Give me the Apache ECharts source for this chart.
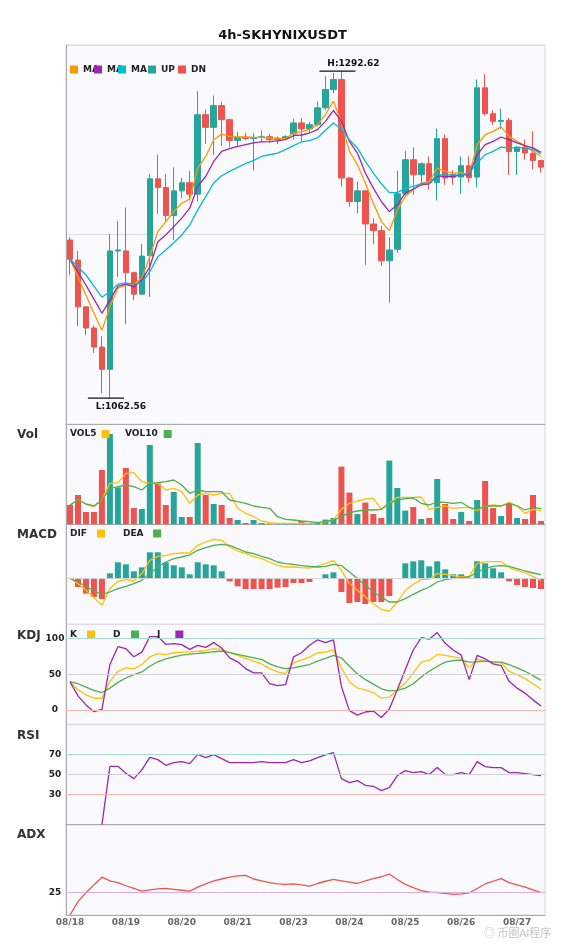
<!DOCTYPE html>
<html>
<head>
<meta charset="utf-8">
<script src="https://cdn.jsdelivr.net/npm/echarts@6/dist/echarts.min.js"></script>
<style>html,body{margin:0;padding:0;background:#fff}#c{width:565px;height:950px}</style>
</head>
<body>
<div id="c"></div>
<script>
const categories = [
'08/18 00:00','08/18 04:00','08/18 08:00','08/18 12:00','08/18 16:00','08/18 20:00',
'08/19 00:00','08/19 04:00','08/19 08:00','08/19 12:00','08/19 16:00','08/19 20:00',
'08/20 00:00','08/20 04:00','08/20 08:00','08/20 12:00','08/20 16:00','08/20 20:00',
'08/21 00:00','08/21 04:00','08/21 08:00','08/21 12:00','08/21 16:00','08/21 20:00',
'08/22 00:00','08/22 04:00','08/22 08:00','08/22 12:00',
'08/23 00:00','08/23 04:00','08/23 08:00','08/23 12:00','08/23 16:00','08/23 20:00',
'08/24 00:00','08/24 04:00','08/24 08:00','08/24 12:00','08/24 16:00','08/24 20:00',
'08/25 00:00','08/25 04:00','08/25 08:00','08/25 12:00','08/25 16:00','08/25 20:00',
'08/26 00:00','08/26 04:00','08/26 08:00','08/26 12:00','08/26 16:00','08/26 20:00',
'08/27 00:00','08/27 04:00','08/27 08:00','08/27 12:00','08/27 16:00','08/27 20:00',
'08/28 00:00','08/28 04:00'];

const opens = [1173.8,1159.7,1126.8,1111.9,1098.5,1082.8,1166.1,1166.1,1150.8,1135.7,
1162.8,1216.9,1210.7,1191.0,1208.4,1214.1,1206.1,1262.0,1253.1,1268.4,
1258.5,1243.9,1246.3,1245.2,1246.0,1246.5,1244.5,1245.5,1248.4,1256.2,
1252.0,1255.0,1266.8,1279.7,1286.7,1217.4,1200.9,1208.4,1185.1,1180.4,
1159.2,1167.3,1206.3,1230.3,1219.7,1227.5,1214.3,1245.1,1220.0,1218.1,
1226.1,1218.1,1280.9,1262.7,1257.3,1258.0,1236.1,1239.2,1234.6,1229.8];
const closes = [1160.2,1126.8,1111.9,1098.5,1082.8,1166.1,1166.8,1150.8,1135.7,1162.5,
1216.9,1210.7,1191.0,1208.4,1214.1,1206.1,1262.0,1253.1,1268.4,1258.5,
1243.9,1246.3,1245.2,1246.0,1246.5,1244.5,1245.5,1246.5,1256.2,1252.0,
1255.0,1266.8,1279.7,1286.7,1217.4,1200.9,1208.4,1185.1,1180.4,1159.2,
1166.8,1206.3,1230.3,1219.7,1227.5,1214.3,1245.1,1217.4,1218.0,1226.1,
1217.7,1280.9,1262.7,1257.3,1258.0,1236.1,1239.2,1235.0,1229.8,1225.1];
const lows = [1149.2,1113.1,1106.8,1094.3,1066.1,1062.56,1147.9,1114.6,1131.5,1135.0,
1133.8,1192.2,1186.7,1173.8,1203.3,1201.6,1200.9,1241.4,1233.8,1240.2,
1239.0,1240.2,1244.0,1222.7,1242.8,1242.0,1241.4,1244.5,1244.4,1242.8,
1249.0,1253.8,1265.0,1277.0,1211.4,1197.3,1192.7,1156.2,1171.0,1155.5,
1129.6,1164.9,1205.0,1205.6,1211.9,1209.6,1201.6,1212.6,1212.6,1206.3,
1214.3,1211.0,1261.4,1255.0,1252.0,1219.7,1219.7,1230.3,1223.7,1221.3];
const highs = [1175.8,1166.1,1127.3,1113.8,1106.1,1178.1,1187.2,1196.6,1151.5,1171.0,
1220.4,1233.8,1220.4,1224.9,1217.4,1222.5,1278.5,1265.6,1275.5,1271.2,
1259.2,1250.0,1249.1,1249.0,1251.0,1248.7,1246.7,1247.5,1259.2,1259.7,
1257.0,1271.4,1289.1,1291.5,1292.62,1218.2,1215.0,1209.0,1189.1,1183.7,
1175.8,1222.5,1236.6,1239.0,1228.4,1232.6,1252.2,1247.9,1223.0,1232.6,
1232.6,1286.8,1290.5,1265.1,1266.1,1259.7,1239.8,1244.4,1250.3,1229.8];

const ma5 = [1160.4,1147.7,1135.0,1122.3,1110.3,1126.8,1140.0,1142.1,1142.8,1147.0,
1162.1,1179.7,1186.8,1193.8,1199.7,1202.6,1224.4,1232.6,1244.4,1248.4,
1246.7,1246.3,1246.3,1246.0,1246.0,1245.6,1245.1,1245.1,1249.1,1250.1,
1251.5,1255.0,1262.1,1271.5,1256.2,1236.2,1226.8,1213.9,1199.7,1186.8,
1180.4,1195.0,1204.4,1209.1,1213.9,1215.0,1224.4,1222.0,1220.9,1221.3,
1219.7,1240.9,1247.9,1250.3,1253.4,1246.7,1243.2,1240.2,1236.2,1232.6];
const ma10 = [1160.4,1151.3,1142.1,1132.2,1122.3,1131.5,1141.4,1142.8,1140.9,1145.6,
1155.0,1172.6,1177.4,1183.2,1189.2,1196.2,1211.5,1218.5,1229.1,1236.2,
1238.1,1239.7,1240.9,1242.1,1242.8,1243.0,1243.5,1244.4,1247.2,1247.7,
1249.1,1251.5,1257.3,1265.1,1257.3,1243.2,1235.0,1220.9,1210.3,1200.9,
1193.8,1198.6,1206.8,1209.6,1212.7,1213.4,1219.0,1218.5,1218.5,1219.7,
1219.7,1233.8,1240.9,1243.2,1246.3,1244.4,1242.1,1240.2,1238.6,1235.5];
const ma20 = [1160.4,1154.8,1149.2,1141.4,1133.6,1137.4,1142.8,1143.7,1142.8,1143.7,
1151.5,1162.1,1166.8,1171.9,1177.4,1184.4,1195.0,1204.4,1213.9,1219.0,
1222.1,1224.9,1227.5,1229.8,1232.6,1233.8,1235.0,1237.4,1240.2,1242.8,
1243.7,1245.6,1251.0,1256.2,1252.0,1244.4,1238.6,1229.1,1220.9,1213.4,
1207.2,1207.2,1210.3,1211.5,1213.4,1213.9,1219.7,1219.7,1219.7,1219.7,
1220.9,1228.0,1233.8,1236.2,1239.2,1238.6,1238.6,1238.6,1237.4,1234.6];

const volumes = [19.3,29.3,12.3,12.3,54.3,90.3,37,56.3,16.3,15.3,
79.3,41,19.3,32.3,7.3,7.3,81.3,29.3,20.3,19.3,
6.3,4.3,1.3,4.3,1.3,0.7,0.7,0.7,1,3.3,
1,2.3,4.7,6.3,57.7,31.7,10.3,21.7,10.3,6.3,
63.7,36.3,13.7,17.3,5.3,6.3,45.3,20.3,5.3,12.3,
3.3,24.3,43.3,16.3,8.3,21,6.3,5.3,29.3,3.3];
const vol5 = [19.3,24.3,20.3,17.6,24.3,41,41.6,51,51.6,42.6,
41,41,34.3,36,32.6,21,29.3,31,29.3,31,
31,16,11,7.6,3.3,1.6,1,1,1,1,
1,1.6,2.3,4.3,15,21,23.3,25.3,26,15,
21,27,27,27,27.3,15,17,18.3,16,16.6,
17,13.6,18.3,19.3,18.3,22.3,18.3,11,15,13.6];
const vol10 = [19.3,24.3,20.3,18.3,24.3,36,37.6,39.3,37.6,34.3,
41,41.6,42.6,44.3,39.3,31,34.3,32.6,32.6,32.6,
24.3,22.6,21,18.3,17,16,7.6,5,4.3,3.3,
2.6,1.6,2.6,4.3,7.6,11.6,13.3,14.3,14.3,15,
21,24.3,25.6,26.3,21,19.3,22.3,22,21,22,
17,15,18.3,18.3,18.3,21,18.3,14.3,17,15.6];

const dif = [0,-5.3,-12,-19.3,-27,-10.3,-3,-1.3,-2.7,4.7,
18,22,23,24.7,25.3,25.5,33,36.3,39,38,
31.3,27.3,24.7,22,19.7,16.3,13,11.3,11.3,10.7,
10.3,12.3,14.7,18,8,-5.3,-12,-18.7,-25.3,-31.3,
-32.7,-23.7,-12,-6,-1.3,-0.7,4.7,4,2.7,1.3,
2,14.7,16.7,16.7,16.7,10.7,8,5.3,2,-2];
const dea = [0,-3.7,-8,-12.7,-16,-13.7,-10.3,-8,-5.3,-2,
4.7,11.3,16.3,19.7,21.3,23.5,28,30.7,33,34,
33,29.7,26.3,24.7,22,19.7,16.3,14.7,14,12.7,
12,11.3,12,14,12.7,6.3,-0.3,-7,-13.7,-18.7,
-23.7,-23.7,-20.3,-16,-12,-8.7,-3.7,-1.3,0,0.7,
1.3,6.3,9.7,12,12.7,12,9.7,7.3,5.3,3.7];
const macdHist = [0,-8.7,-15.3,-18.7,-20.7,5,16,14,7,11,
26,26,16,13,11,4,16,14,13,7,
-3,-8,-10.7,-10.7,-10.7,-10.7,-9.3,-8.7,-4.7,-4.7,
-3.7,-0.7,4,6,-13.7,-24.7,-23.7,-25.7,-23.7,-23.7,
-17.7,-0.5,15,17,18,12,17,9,4,4,
0.5,17,15,10,6,-3,-6.7,-8.7,-9.7,-10.7];

const kLine = [39.6,28.3,21.2,16.5,16.5,40.1,54.2,59.0,57.5,63.7,
74.5,78.8,77.4,80.2,81.1,81.1,82.5,83.0,85.8,84.9,
80.2,76.4,72.2,68.4,64.6,58.0,53.3,50.9,66.0,69.8,
74.1,80.2,81.1,84.0,59.0,39.2,30.7,28.3,24.5,16.5,
17.9,28.3,37.7,51.9,67.0,69.8,77.8,76.4,74.5,72.6,
59.0,70.8,68.4,67.0,66.0,54.2,49.5,43.9,36.8,29.2];
const dLine = [39.6,36.8,32.1,27.4,24.5,30.7,38.7,44.8,49.5,53.3,
61.3,67.5,71.7,74.5,76.9,78.3,79.2,80.2,81.6,82.5,
80.2,77.8,75.5,73.1,70.8,64.6,60.4,58.0,59.0,61.3,
63.7,68.4,72.2,76.4,73.1,61.3,50.9,42.5,36.3,29.7,
26.9,27.4,30.7,36.8,46.2,54.2,61.3,67.0,69.3,69.8,
67.0,67.5,68.4,67.5,67.0,63.7,59.0,54.2,48.1,41.5];
const jLine = [39.6,19.8,7.1,-2.4,0.9,63.7,88.7,85.8,74.5,81.1,
102.8,102.8,92.0,92.9,91.5,84.9,90.6,87.7,94.3,86.8,
73.1,67.5,58.0,51.9,51.9,36.8,34.0,35.4,74.5,80.2,
90.6,98.1,94.3,98.1,33.0,-0.9,-7.1,-2.8,-1.4,-10.4,
1.4,28.3,56.6,84.0,101.4,99.1,108.5,93.4,84.0,76.9,
42.5,76.4,71.7,64.6,62.3,40.1,30.7,23.6,14.2,5.7];

const rsi = [null,null,null,null,0,58.3,58.3,51.3,46,54.7,
67.3,65,59.3,62,63,61,70.3,67,70,66,
62,62,62,62,63,62,62,62,65,62,
63.7,67,69.7,72,46,42,44,39.3,38.3,34,
37,49,54,52,53,50,57,50,50,52,
50,63,58,57,57,52,52,51,50,49];
const adx = [20,22.96,24.96,26.7,28.4,27.6,27.2,26.5,25.9,25.3,
25.6,25.8,25.9,25.7,25.5,25.3,26.2,26.9,27.6,28.0,
28.4,28.7,28.8,28.0,27.6,27.2,26.9,26.8,26.9,26.7,
26.4,27.0,27.5,27.9,27.6,27.3,27.0,27.6,28.1,28.5,
29.1,27.9,26.8,26.1,25.4,25.1,25.0,24.8,24.6,24.7,
24.9,25.9,26.9,27.5,28.1,27.2,26.7,26.2,25.6,25.0];

const kdjTicks = [0, 50, 100];
const rsiTicks = [30, 50, 70];
const adxTicks = [25];

/* ---------- build ---------- */
const FONT = 'DejaVu Sans';
const UP = '#26A69A', DN = '#EF5350';
const isUp = i => closes[i] >= opens[i];
const ohlc = categories.map((c, i) => [opens[i], closes[i], lows[i], highs[i]]);
const hiVal = Math.max(...highs), loVal = Math.min(...lows);
const hiIdx = highs.indexOf(hiVal), loIdx = lows.indexOf(loVal);
const pad = (hiVal - loVal) * 0.08;
const pMin = loVal - pad, pMax = hiVal + pad;

const grids = [[45, 379.3], [424.3, 100], [524.3, 100], [624.3, 100], [724.6, 100], [825, 90]];

const lbl = keep => ({
  show: true, color: '#222', fontSize: 9, fontWeight: 'bold', fontFamily: FONT,
  align: 'center', margin: 11,
  formatter: v => keep.indexOf(v) >= 0 ? String(v) : ''
});
const yBase = { axisLine: { show: true, lineStyle: { color: '#aaa' } }, axisTick: { show: false }, splitLine: { show: false } };

const lineS = (name, data, color, xi, extra) => Object.assign({
  name, type: 'line', data, xAxisIndex: xi, yAxisIndex: xi, symbol: 'none', showSymbol: false,
  color, lineStyle: { width: 1.3, color }, emphasis: { disabled: true }, animation: false
}, extra || {});

const refLines = (levels, colors) => ({
  silent: true, symbol: 'none', label: { show: false }, animation: false,
  lineStyle: { type: 'solid', width: 1 },
  data: levels.map((v, i) => ({ yAxis: v, lineStyle: { color: colors[i], type: 'solid', width: 1 } }))
});

const legendItems = [
  { name: 'MA5', left: 70, top: 65, align: 'left', text: 'MA' },
  { name: 'MA10', left: 94, top: 65, align: 'left', text: 'MA' },
  { name: 'MA20', left: 118, top: 65, align: 'left', text: 'MA' },
  { name: 'UP', left: 148, top: 65, align: 'left' },
  { name: 'DN', left: 178, top: 65, align: 'left' },
  { name: 'VOL5', left: 70, top: 429.5, align: 'right', pad: 0 },
  { name: 'VOL10', left: 125, top: 429.5, align: 'right', pad: 1 },
  { name: 'DIF', left: 70, top: 529, align: 'right', pad: 5 },
  { name: 'DEA', left: 123, top: 529, align: 'right', pad: 4.5 },
  { name: 'K', left: 70, top: 630, align: 'right', pad: 5 },
  { name: 'D', left: 113, top: 630, align: 'right', pad: 5.5 },
  { name: 'J', left: 157, top: 630, align: 'right', pad: 10 }
];

const panelTitles = [['Vol', 429], ['MACD', 529], ['KDJ', 629.5], ['RSI', 729.5], ['ADX', 829]];

const option = {
  animation: false,
  backgroundColor: '#ffffff',
  textStyle: { fontFamily: FONT },
  title: [
    { text: '4h-SKHYNIXUSDT', left: 'center', top: 29, padding: 0,
      textStyle: { fontSize: 13, fontWeight: 'bold', color: '#111', fontFamily: FONT } }
  ].concat(panelTitles.map(([t, top]) => ({
    text: t, left: 17, top, padding: 0,
    textStyle: { fontSize: 12, fontWeight: 'bold', color: '#333', fontFamily: FONT }
  }))),
  legend: legendItems.map(it => ({
    data: [it.name], left: it.left, top: it.top, orient: 'horizontal', align: it.align,
    icon: 'rect', itemWidth: 8, itemHeight: 8, itemGap: 0, padding: 0,
    formatter: it.text ? (() => it.text) : '{name}',
    textStyle: { color: '#222', fontSize: 9, fontWeight: 'bold', fontFamily: FONT,
      padding: it.pad ? [0, it.pad, 0, 0] : 0 }
  })),
  grid: grids.map(([t, h]) => ({
    left: 66, right: 20, top: t, height: h, show: true, outerBoundsMode: 'none',
    backgroundColor: '#fafafc', borderColor: '#d6d6de', borderWidth: 1
  })),
  xAxis: grids.map((g, i) => ({
    type: 'category', gridIndex: i, data: categories, boundaryGap: true,
    axisLine: { show: true, lineStyle: { color: '#aaa' } },
    axisTick: { show: false }, splitLine: { show: false },
    axisPointer: { show: false },
    axisLabel: i === grids.length - 1
      ? { show: true, interval: 6, formatter: v => v.slice(0, 5), color: '#666', fontSize: 9, fontWeight: 'bold', fontFamily: FONT, margin: 3 }
      : { show: false }
  })),
  yAxis: [
    Object.assign({}, yBase, { gridIndex: 0, min: pMin, max: pMax, interval: (pMax - pMin) / 2,
      axisLabel: { show: false }, splitLine: { show: true, lineStyle: { color: '#dcdce2' } } }),
    Object.assign({}, yBase, { gridIndex: 1, min: 0, max: 100, axisLabel: { show: false } }),
    Object.assign({}, yBase, { gridIndex: 2, min: -46, max: 54, axisLabel: { show: false } }),
    Object.assign({}, yBase, { gridIndex: 3, min: -20, max: 120, interval: 10, axisLabel: lbl(kdjTicks) }),
    Object.assign({}, yBase, { gridIndex: 4, min: 0, max: 100, interval: 10, axisLabel: lbl(rsiTicks) }),
    Object.assign({}, yBase, { gridIndex: 5, min: 20, max: 40, interval: 5, axisLabel: lbl(adxTicks) })
  ],
  graphic: [
    { type: 'text', left: 484, top: 927,
      style: { text: '◎ 币圈AI程序', fill: '#c4c4c4', fontSize: 11, fontFamily: '"Noto Sans CJK SC", sans-serif' } }
  ],
  series: [
    {
      name: 'SKHYNIXUSDT', type: 'candlestick', data: ohlc, xAxisIndex: 0, yAxisIndex: 0,
      barWidth: 6, animation: false,
      itemStyle: { color: UP, color0: DN, borderColor: UP, borderColor0: DN, borderWidth: 1 },
      markPoint: {
        silent: true, animation: false,
        data: [
          { name: 'H', coord: [categories[hiIdx], hiVal], value: hiVal, symbol: 'rect', symbolSize: [36, 1.4], symbolOffset: [-4, 0],
            itemStyle: { color: '#111' },
            label: { show: true, position: 'top', distance: 2, offset: [16, 0], formatter: 'H:' + hiVal.toFixed(2),
              color: '#111', fontSize: 9, fontWeight: 'bold', fontFamily: FONT } },
          { name: 'L', coord: [categories[loIdx], loVal], value: loVal, symbol: 'rect', symbolSize: [36, 1.4], symbolOffset: [-4, 0],
            itemStyle: { color: '#111' },
            label: { show: true, position: 'bottom', distance: 3, offset: [15, 0], formatter: 'L:' + loVal.toFixed(2),
              color: '#111', fontSize: 9, fontWeight: 'bold', fontFamily: FONT } }
        ]
      }
    },
    lineS('MA5', ma5, '#FF9800', 0),
    lineS('MA10', ma10, '#9C27B0', 0),
    lineS('MA20', ma20, '#00BCD4', 0),
    lineS('UP', [], UP, 0),
    lineS('DN', [], DN, 0),
    {
      name: 'Vol', type: 'bar', xAxisIndex: 1, yAxisIndex: 1, barWidth: 6, animation: false,
      data: volumes.map((v, i) => ({ value: v, itemStyle: { color: isUp(i) ? UP : DN } }))
    },
    lineS('VOL5', vol5, '#FFC107', 1),
    lineS('VOL10', vol10, '#4CAF50', 1),
    {
      name: 'MACD', type: 'bar', xAxisIndex: 2, yAxisIndex: 2, barWidth: 6, animation: false,
      data: macdHist.map(v => ({ value: v, itemStyle: { color: v >= 0 ? UP : DN } })),
      markLine: refLines([0], ['#d4d4d8'])
    },
    lineS('DIF', dif, '#FFC107', 2),
    lineS('DEA', dea, '#4CAF50', 2),
    lineS('K', kLine, '#FFC107', 3, { markLine: refLines(kdjTicks, ['#f7b5b5', '#cfcfd4', '#a6dbd5']) }),
    lineS('D', dLine, '#4CAF50', 3),
    lineS('J', jLine, '#9C27B0', 3),
    lineS('RSI', rsi, '#9C27B0', 4, { markLine: refLines(rsiTicks, ['#f7b5b5', '#cfcfd4', '#a6dbd5']) }),
    lineS('ADX', adx, '#EF5350', 5, { markLine: refLines(adxTicks, ['#dcaee6']) })
  ]
};

const chart = echarts.init(document.getElementById('c'), null, { renderer: 'canvas' });
chart.setOption(option);
</script>
</body>
</html>
